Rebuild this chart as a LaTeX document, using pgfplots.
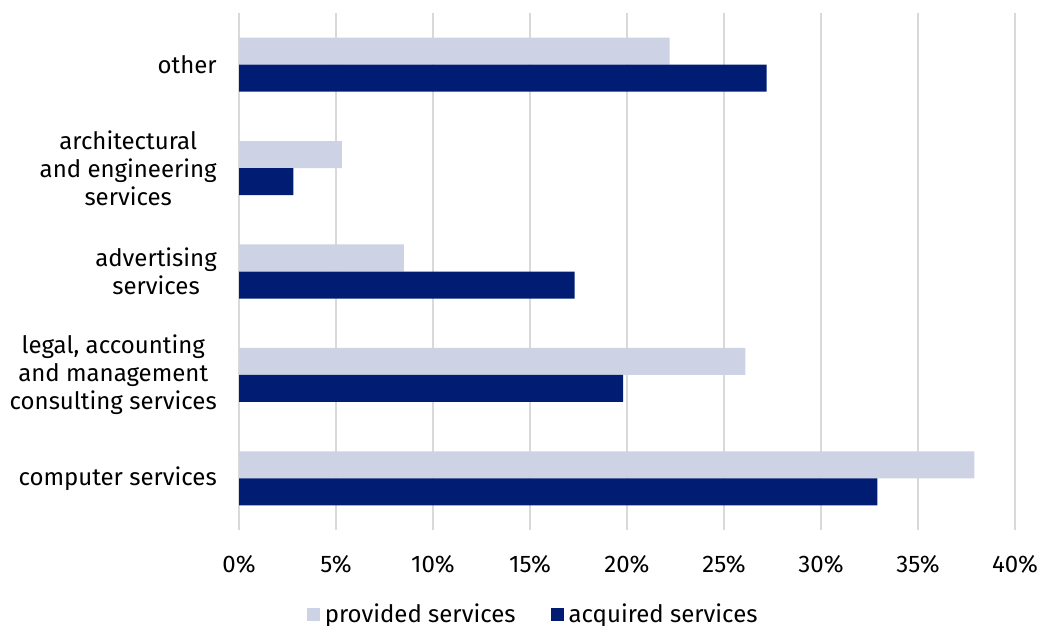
\documentclass[border=0pt]{standalone}
\usepackage{pgfplots}
\pgfplotsset{compat=1.18}
\usepackage{fontspec}
\setmainfont{Fira Sans}
\definecolor{provided}{RGB}{205,210,228}
\definecolor{acquired}{RGB}{0,28,115}
\definecolor{gridc}{RGB}{217,217,217}
\begin{document}
\begin{tikzpicture}
\useasboundingbox (0,0) rectangle (780.75pt,468.75pt);
\begin{axis}[
  at={(179.25pt,71.25pt)}, anchor=south west,
  scale only axis,
  width=582pt, height=387.75pt,
  xmin=0, xmax=40, ymin=-0.5, ymax=4.5,
  xtick={0,5,...,40},
  ytick={0,1,2,3,4},
  yticklabels={computer services,{legal, accounting\\and management\\consulting services},{advertising\\services},{architectural\\and engineering\\services},other},
  xticklabel={\pgfmathprintnumber{\tick}\%},
  /pgf/number format/assume math mode=true,
  axis line style={draw=none},
  major tick length=0pt,
  xmajorgrids,
  grid style={gridc, line width=1.5pt},
  yticklabel style={align=center, inner sep=0pt, font=\fontsize{18pt}{21pt}\selectfont},
  xticklabel style={inner sep=0pt, font=\fontsize{18pt}{21pt}\selectfont},
  yticklabel shift=16.5pt,
  xticklabel shift=19pt,
  xbar, bar width=20.25pt,
  legend columns=2,
  legend style={at={(0.381,-0.163)}, anchor=center, draw=none, fill=none,
    font=\fontsize{18pt}{21pt}\selectfont,
    nodes={inner sep=3.5pt},
    /tikz/every even column/.append style={column sep=23pt}},
  legend image code/.code={\fill[#1] (0pt,-4.875pt) rectangle (9.75pt,4.875pt);},
]
\addplot[draw=none, fill=provided, bar shift=10.125pt] coordinates {(37.9,0) (26.1,1) (8.5,2) (5.3,3) (22.2,4)};
\addplot[draw=none, fill=acquired, bar shift=-10.125pt] coordinates {(32.9,0) (19.8,1) (17.3,2) (2.8,3) (27.2,4)};
\legend{provided services, acquired services}
\end{axis}
\end{tikzpicture}
\end{document}
